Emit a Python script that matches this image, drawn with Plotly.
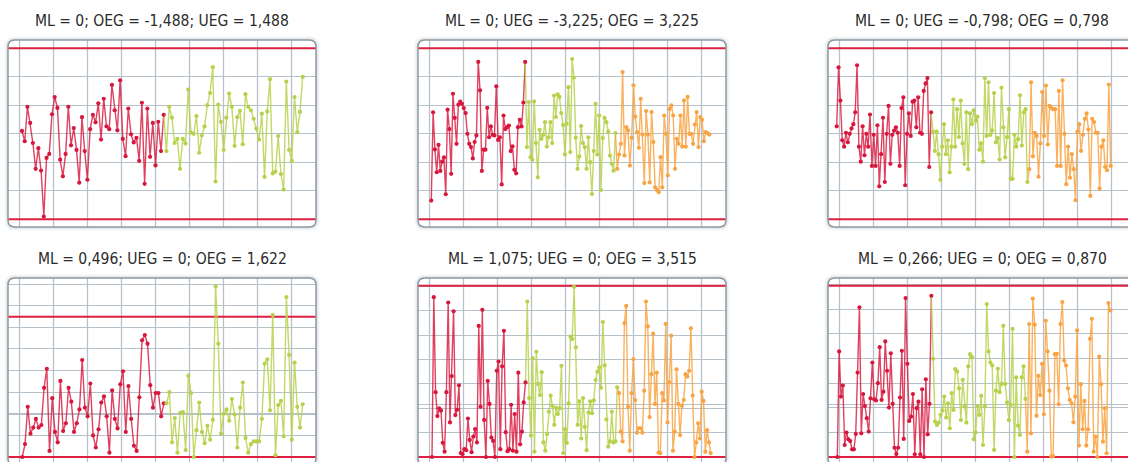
import numpy as np
import plotly.graph_objects as go

W, H = 1128, 462

# ---------------- data ----------------
titles = ["ML = 0; OEG = -1,488; UEG = 1,488",
          "ML = 0; UEG = -3,225; OEG = 3,225",
          "ML = 0; UEG = -0,798; OEG = 0,798",
          "ML = 0,496; UEG = 0; OEG = 1,622",
          "ML = 1,075; UEG = 0; OEG = 3,515",
          "ML = 0,266; UEG = 0; OEG = 0,870"]
ml_vals = [0, 0, 0, 0.496, 1.075, 0.266]
upper_limits = [1.488, 3.225, 0.798, 1.622, 3.515, 0.870]
lower_limits = [-1.488, -3.225, -0.798, 0, 0, 0]
grid_steps = [0.496, 1.075, 0.266, 0.25, 0.5, 0.125]

p1_red = [0.05,-0.13,0.47,0.19,-0.16,-0.61,-0.25,-0.64,-1.44,-0.42,-0.35,0.34,0.64,0.45,-0.45,-0.74,-0.35,0.47,-0.20,0.10,-0.28,-0.85,0.29,-0.30,-0.80,0.08,0.33,0.20,0.53,-0.10,0.61,0.13,0.08,0.85,0.41,0.06,0.93,-0.09,-0.39,0.44,-0.01,-0.15,-0.07,-0.47,0.54,-0.87,0.44,-0.40,0.19,-0.55,0.21,-0.30,0.33]
p1_green = [-0.30,0.47,0.28,-0.16,-0.09,-0.61,-0.09,-0.17,0.77,0.02,0.00,0.31,-0.33,-0.03,0.13,0.50,0.71,1.16,-0.83,0.51,0.21,-0.28,0.28,0.70,0.47,-0.21,0.29,0.40,-0.18,0.69,0.47,0.41,0.26,0.09,-0.10,0.35,-0.75,0.39,0.95,-0.69,-0.66,-0.04,-0.70,-0.97,0.91,-0.28,-0.47,0.64,0.03,0.38,0.99]

p2_red = [-2.52,0.81,-0.59,-1.45,-0.42,-1.40,-1.05,-0.89,-2.28,0.91,0.18,-1.51,1.51,0.60,-0.38,1.10,1.21,1.13,0.97,0.78,0.00,-0.38,-0.50,-0.93,-0.31,-0.06,2.71,1.64,-1.40,-0.60,-0.60,0.98,-0.13,0.28,-0.04,-0.06,1.79,-0.23,-0.13,-1.91,0.69,0.18,0.25,0.31,-0.65,-0.47,-1.36,-1.49,0.25,0.53,0.28,1.18,2.71]
p2_green = [-0.50,1.20,-0.88,-0.98,1.22,-0.35,-1.64,0.15,-0.19,-0.04,0.44,-0.48,-0.13,0.44,-0.35,1.44,0.63,1.49,1.39,0.78,0.33,-0.78,0.38,1.76,-0.69,2.82,2.12,-0.15,-1.32,-0.86,0.29,-0.35,-0.50,-1.32,-0.13,-1.07,-2.27,-0.65,1.13,-0.78,0.69,-2.12,-0.16,0.60,0.44,0.09,-0.82,-1.13,-1.39,0.03]
p2_orange = [-1.32,-0.78,-0.38,2.33,-0.82,0.25,0.13,-1.20,-0.15,1.83,0.65,0.06,-0.53,1.32,-0.03,-1.86,0.86,-0.03,-1.83,0.82,-0.31,-2.02,-2.12,-2.20,-0.88,-2.02,0.69,0.00,-1.57,0.94,1.07,0.69,-1.32,-0.19,-0.38,0.69,-0.48,1.26,-0.48,1.39,0.00,0.00,-0.38,0.35,0.82,-0.50,0.63,0.53,-0.28,0.06,0.03,-0.03]

p3_red = [0.07,0.62,0.31,-0.06,-0.12,0.01,-0.08,0.00,0.05,0.09,0.20,0.64,-0.12,-0.26,0.07,-0.20,0.00,-0.12,0.18,-0.30,-0.01,-0.30,0.08,-0.49,-0.19,0.15,-0.45,0.00,0.26,-0.28,-0.01,0.03,0.06,0.01,-0.30,0.24,0.34,-0.48,0.00,0.19,-0.02,0.30,0.31,0.06,0.34,0.01,0.00,0.40,0.47,0.52,-0.31,0.20]
p3_green = [0.02,-0.16,0.02,-0.19,-0.43,-0.12,0.09,-0.19,-0.06,-0.36,-0.12,0.32,-0.12,0.23,-0.03,0.31,-0.09,-0.28,0.20,-0.33,0.19,0.09,0.22,0.12,0.16,-0.15,-0.09,-0.26,0.52,-0.02,0.48,-0.01,0.03,0.38,-0.08,-0.04,-0.24,0.43,0.06,-0.22,-0.03,0.23,-0.42,-0.42,-0.01,-0.12,-0.05,0.36,-0.11,0.20,0.23,-0.45]
p3_orange = [-0.33,0.48,-0.21,0.01,-0.02,-0.40,-0.09,0.39,-0.02,0.45,-0.10,0.26,0.24,0.23,0.23,-0.30,0.40,-0.30,0.50,0.00,-0.47,-0.12,-0.41,-0.19,-0.33,-0.62,0.02,0.09,-0.16,-0.01,0.14,0.19,0.04,-0.58,0.14,0.11,0.01,0.01,-0.51,-0.12,-0.06,-0.31,-0.34,0.46,-0.30]

p4_red = [0.00,0.15,0.58,0.27,0.34,0.44,0.34,0.37,0.80,1.02,0.07,0.68,0.29,0.17,0.88,0.30,0.39,0.80,0.64,0.29,0.39,0.55,1.12,0.57,0.47,0.85,0.25,0.11,0.32,0.63,0.70,0.47,0.05,0.77,0.44,0.33,0.84,0.99,0.29,0.82,0.44,0.13,0.07,0.69,1.35,1.41,1.31,0.83,0.57,0.74,0.74,0.47,0.62]
p4_green = [0.62,0.75,0.17,0.45,0.05,0.51,0.52,0.08,0.94,0.74,0.00,0.31,0.63,0.29,0.16,0.36,0.20,0.43,1.97,1.31,0.27,0.50,0.55,0.42,0.67,0.49,0.11,0.57,0.86,0.22,0.05,0.15,0.18,0.18,0.18,0.44,1.08,1.13,0.54,1.64,0.02,0.60,0.65,0.24,1.85,1.18,0.20,1.09,0.58,0.34,0.61]

p5_red = [0.00,3.28,1.33,0.84,1.00,0.95,0.29,0.11,1.33,3.17,0.71,1.66,2.99,0.86,0.97,1.47,0.08,0.06,0.16,0.14,0.79,0.35,0.10,0.42,0.57,0.30,2.69,1.03,3.02,0.76,0.00,1.56,1.09,0.40,0.33,0.00,1.77,1.96,0.16,1.86,2.59,0.51,0.12,0.16,1.07,0.13,0.88,0.11,1.73,0.26,0.52,1.12,1.53]
p5_green = [3.19,1.21,0.44,2.03,0.11,2.16,1.50,1.27,1.74,0.30,0.13,0.47,0.93,1.26,1.05,0.66,1.01,0.88,1.00,1.87,0.08,0.57,0.29,1.10,2.47,2.42,3.49,2.25,0.66,1.14,0.38,1.21,0.62,0.14,0.91,1.14,0.90,1.16,1.58,1.75,1.84,1.42,2.77,1.88,0.77,0.21,0.32,0.93,0.30,0.32,1.43]
p5_orange = [1.31,0.52,0.32,2.75,3.10,1.03,0.13,1.31,2.01,1.17,0.50,0.59,0.59,0.50,1.36,3.19,2.68,0.82,1.70,2.53,1.09,1.73,0.09,0.08,1.31,1.16,2.73,0.71,1.53,2.49,0.13,0.52,1.80,1.09,0.45,1.05,1.17,1.70,1.65,1.77,2.64,1.26,0.00,0.30,0.69,0.38,1.34,1.15,0.11,0.55,0.30,0.08]

p6_red = [0.000,0.536,0.307,0.363,0.061,0.124,0.090,0.081,0.039,0.039,0.117,0.429,0.760,0.120,0.320,0.259,0.197,0.129,0.298,0.480,0.293,0.287,0.375,0.558,0.290,0.332,0.587,0.438,0.251,0.527,0.270,0.047,0.015,0.047,0.302,0.539,0.092,0.807,0.473,0.183,0.205,0.320,0.014,0.248,0.281,0.014,0.344,0.000,0.395,0.115,0.270,0.819]
p6_green = [0.499,0.180,0.163,0.175,0.214,0.236,0.307,0.200,0.273,0.146,0.324,0.239,0.446,0.434,0.349,0.188,0.392,0.256,0.175,0.460,0.522,0.507,0.090,0.124,0.259,0.214,0.310,0.061,0.256,0.777,0.536,0.480,0.465,0.036,0.337,0.448,0.329,0.371,0.666,0.371,0.278,0.188,0.265,0.651,0.000,0.404,0.159,0.112,0.404,0.460,0.295]
p6_orange = [0.027,0.675,0.120,0.804,0.672,0.210,0.412,0.315,0.473,0.217,0.692,0.536,0.337,0.002,0.005,0.522,0.524,0.268,0.675,0.787,0.490,0.465,0.349,0.290,0.273,0.176,0.307,0.643,0.058,0.370,0.141,0.285,0.058,0.141,0.600,0.702,0.027,0.103,0.000,0.510,0.370,0.078,0.248,0.019,0.782,0.744]

panels = [[p1_red, p1_green], [p2_red, p2_green, p2_orange], [p3_red, p3_green, p3_orange],
          [p4_red, p4_green], [p5_red, p5_green, p5_orange], [p6_red, p6_green, p6_orange]]

# ---------------- style / layout ----------------
series_colors = ["#d8173d", "#b8d14d", "#f8a444"]
line_colors = ["rgba(216,23,61,0.82)", "rgba(184,209,77,0.85)", "rgba(248,164,68,0.85)"]
limit_color = "#de1f40"
grid_color = "#b7c1c9"
border_color = "#8e9aa3"
title_font = dict(family="DejaVu Sans Condensed, Liberation Sans Narrow, sans-serif",
                  size=15.5, color="#2b2b2b")

box_lefts = [8, 418, 828]
box_tops = [40, 278]
box_w, box_h, radius = 308, 187, 7
# pixel offsets (from box top) of upper / lower limit lines
calib = [(8.3, 179.3), (8.3, 179.3), (8.3, 179.3), (38.7, 179.0), (7.7, 179.0), (7.7, 179.0)]
# pixel offsets (from box left) of first / last data point
xspan = [(14.0, 294.7), (13.3, 291.3), (8.7, 282.7), (14.3, 294.7), (14.0, 292.7), (9.3, 282.3)]


def P(x, y):
    return f"{x / W:.5f},{1 - y / H:.5f}"


def rrect_path(x0, y0, x1, y1, r):
    return ("M" + P(x0 + r, y0) + " L" + P(x1 - r, y0) + " Q" + P(x1, y0) + " " + P(x1, y0 + r) +
            " L" + P(x1, y1 - r) + " Q" + P(x1, y1) + " " + P(x1 - r, y1) +
            " L" + P(x0 + r, y1) + " Q" + P(x0, y1) + " " + P(x0, y1 - r) +
            " L" + P(x0, y0 + r) + " Q" + P(x0, y0) + " " + P(x0 + r, y0) + " Z")


fig = go.Figure()
shapes, annotations = [], []
layout_axes = {}

for i, series in enumerate(panels):
    row, col = divmod(i, 3)
    bl, bt = box_lefts[col], box_tops[row]
    br, bb = bl + box_w, bt + box_h
    vis_r, vis_b = min(br, W), min(bb, H)
    xa = "x" if i == 0 else f"x{i + 1}"
    ya = "y" if i == 0 else f"y{i + 1}"

    n_total = sum(len(s) for s in series)
    first, last = xspan[i]
    sp = (last - first) / (n_total - 1)
    xr = [-first / sp, (n_total - 1) + (vis_r - bl - last) / sp]

    up, lo = upper_limits[i], lower_limits[i]
    up_px, lo_px = bt + calib[i][0], bt + calib[i][1]
    k = (lo_px - up_px) / (up - lo)
    yr = [lo - (vis_b - lo_px) / k, up + (up_px - bt) / k]

    st = grid_steps[i]
    if row == 0:
        gv = list(np.arange(-2, 3) * st)
    else:
        gv = list(np.arange(st, yr[1], st)) + [ml_vals[i]]

    layout_axes["xaxis" if i == 0 else f"xaxis{i + 1}"] = dict(
        domain=[bl / W, vis_r / W], range=xr, anchor=ya, showgrid=False, zeroline=False,
        showticklabels=False, ticks="", showline=False, fixedrange=True)
    layout_axes["yaxis" if i == 0 else f"yaxis{i + 1}"] = dict(
        domain=[1 - vis_b / H, 1 - bt / H], range=yr, anchor=xa, tickvals=gv, showgrid=True,
        gridcolor=grid_color, gridwidth=1.3, zeroline=False, showticklabels=False, ticks="",
        showline=False, fixedrange=True)

    # box shadow, fill, vertical grid, border
    for d, a in [(4, 0.03), (3, 0.04), (2, 0.06), (1, 0.08)]:
        shapes.append(dict(type="path", path=rrect_path(bl - d, bt - d, br + d, bb + d, radius + d),
                           xref="paper", yref="paper", fillcolor=f"rgba(70,80,90,{a})",
                           line=dict(width=0), layer="below"))
    shapes.append(dict(type="path", path=rrect_path(bl, bt, br, bb, radius), xref="paper", yref="paper",
                       fillcolor="white", line=dict(width=0), layer="below"))
    for kk in range(9):
        gx = bl + 11.5 + 34 * kk
        if gx < vis_r:
            shapes.append(dict(type="line", xref="paper", yref="paper", x0=gx / W, x1=gx / W,
                               y0=1 - bb / H, y1=1 - bt / H, line=dict(color=grid_color, width=1.3),
                               layer="below"))
    shapes.append(dict(type="path", path=rrect_path(bl, bt, br, bb, radius), xref="paper", yref="paper",
                       fillcolor="rgba(0,0,0,0)", line=dict(color=border_color, width=1.5), layer="above"))

    # limit lines
    for v in (up, lo):
        fig.add_trace(go.Scatter(x=xr, y=[v, v], mode="lines", xaxis=xa, yaxis=ya,
                                 line=dict(color=limit_color, width=2), hoverinfo="skip",
                                 showlegend=False))

    # series lines then markers
    start = 0
    pieces = []
    prev_last = None
    for j, s in enumerate(series):
        xs = list(range(start, start + len(s)))
        ys = list(s)
        if prev_last is not None:
            xs = [start - 1] + xs
            ys = [prev_last] + ys
        pieces.append((xs, ys, j, s, start))
        prev_last = s[-1]
        start += len(s)
    for xs, ys, j, s, st0 in pieces:
        fig.add_trace(go.Scatter(x=xs, y=ys, mode="lines", xaxis=xa, yaxis=ya,
                                 line=dict(color=line_colors[j], width=1.4), hoverinfo="skip",
                                 showlegend=False))
    for xs, ys, j, s, st0 in pieces:
        fig.add_trace(go.Scatter(x=list(range(st0, st0 + len(s))), y=s, mode="markers", xaxis=xa,
                                 yaxis=ya, marker=dict(color=series_colors[j], size=4.2, line=dict(width=0)),
                                 showlegend=False, cliponaxis=True))

    annotations.append(dict(text=titles[i], xref="paper", yref="paper", x=(bl + box_w / 2) / W,
                            y=1 - (bt - 19.5) / H, xanchor="center", yanchor="middle",
                            showarrow=False, font=title_font))

fig.update_layout(width=W, height=H, margin=dict(l=0, r=0, t=0, b=0), paper_bgcolor="white",
                  plot_bgcolor="rgba(0,0,0,0)", showlegend=False, shapes=shapes,
                  annotations=annotations, **layout_axes)

fig.write_html("out.html", config={"displayModeBar": False},
               post_script="document.body.style.margin='0';document.body.style.padding='0';"
                           "document.body.style.overflow='hidden';")
